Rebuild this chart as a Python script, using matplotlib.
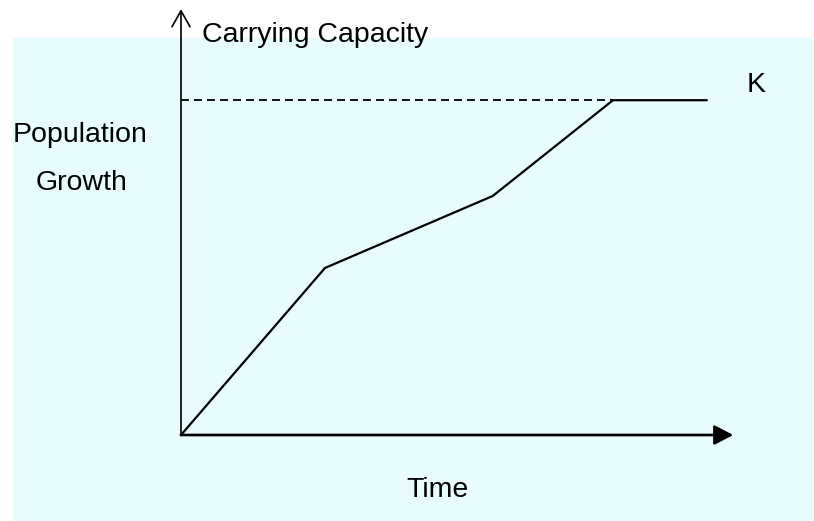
import numpy as np
import matplotlib.pyplot as plt

# population growth curve (arbitrary units)
time = [0, 2.0, 4.33, 6.0, 7.3]
population = [0, 4.64, 6.64, 9.3, 9.3]
K = 9.3
x_end = 7.67
y_end = 11.83

plt.rcParams['font.family'] = ['Liberation Sans', 'DejaVu Sans']

fig = plt.figure(figsize=(8.14, 5.21), dpi=100)
fig.patch.set_facecolor('white')
ax = fig.add_axes([0, 0, 1, 1])
ax.set_xlim(-181 / 72, (814 - 181) / 72)
ax.set_ylim(-86 / 36, 435 / 36)
ax.axis('off')

# pale cyan slide background
ax.axhspan(-86 / 36, (435 - 38) / 36, xmin=13 / 814, xmax=1, color='#e9fcfd', zorder=0)

# dashed carrying-capacity line, then the curve
ax.plot([0, time[3]], [K, K], color='black', lw=1.3, ls=(0, (4.4, 2.8)), zorder=2)
ax.plot(time, population, color='black', lw=1.6, solid_joinstyle='miter', zorder=3)

# axes as arrows
ax.annotate('', xy=(0, y_end), xytext=(0, 0),
            arrowprops=dict(arrowstyle='->,head_length=1.15,head_width=0.65',
                            color='black', lw=1.2, shrinkA=0, shrinkB=0), zorder=3)
ax.annotate('', xy=(x_end, 0), xytext=(0, 0),
            arrowprops=dict(arrowstyle='-|>,head_length=1.15,head_width=0.6',
                            color='black', lw=1.9, shrinkA=0, shrinkB=0), zorder=3)

fs = 20.5
ax.text(1.86, (435 - 42) / 36, 'Carrying Capacity', fontsize=fs, ha='center', va='baseline')
ax.text(7.99, (435 - 92) / 36, 'K', fontsize=fs, ha='center', va='baseline')
ax.text(-1.40, (435 - 142) / 36, 'Population', fontsize=fs, ha='center', va='baseline')
ax.text(-1.375, (435 - 190) / 36, 'Growth', fontsize=fs, ha='center', va='baseline')
ax.text(3.56, (435 - 497) / 36, 'Time', fontsize=fs, ha='center', va='baseline')

fig.savefig('out.png', dpi=100)
